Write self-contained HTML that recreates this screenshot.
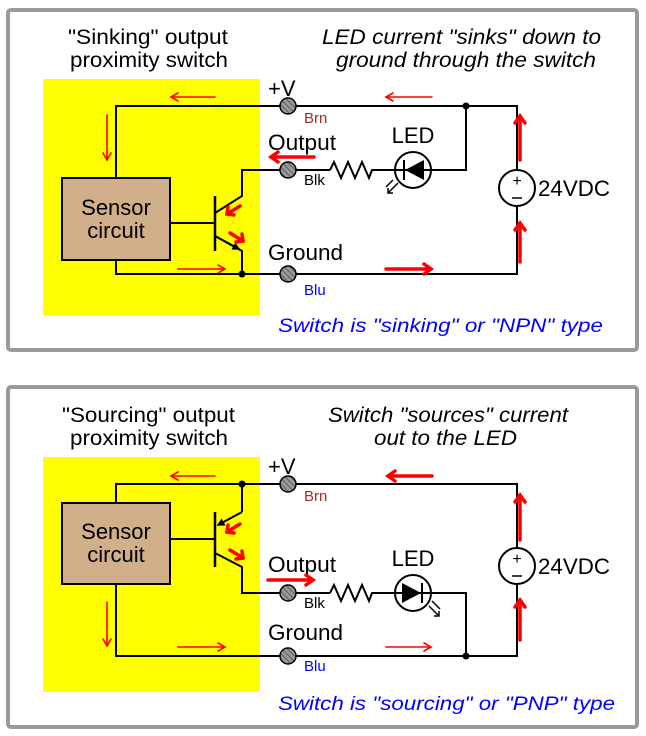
<!DOCTYPE html>
<html><head><meta charset="utf-8"><style>
html,body{margin:0;padding:0;background:#fff;}
svg{display:block;font-family:"Liberation Sans",sans-serif;}
</style></head><body>
<svg width="646" height="736" viewBox="0 0 646 736" xmlns="http://www.w3.org/2000/svg">
<defs>
<marker id="ah" viewBox="0 0 10 10" refX="8" refY="5" markerWidth="4" markerHeight="4" orient="auto"><path d="M0,0 L10,5 L0,10 z" fill="#000"/></marker>
<pattern id="hatch" width="4" height="4" patternUnits="userSpaceOnUse" patternTransform="rotate(-45)"><rect width="4" height="4" fill="#999"/><line x1="0" y1="0" x2="0" y2="4" stroke="#444" stroke-width="1.4"/></pattern>
</defs>
<rect x="8" y="10" width="629" height="340" rx="3" fill="none" stroke="#9a9a9a" stroke-width="4"/>
<rect x="8" y="387" width="629" height="340" rx="3" fill="none" stroke="#9a9a9a" stroke-width="4"/>

<g>
<rect x="43" y="79" width="217" height="236" fill="#ffff00"/>
<text x="68" y="44" font-size="21" textLength="160" lengthAdjust="spacingAndGlyphs">"Sinking" output</text>
<text x="70" y="67" font-size="21" textLength="158" lengthAdjust="spacingAndGlyphs">proximity switch</text>
<text x="322" y="44" font-size="21" font-style="italic" textLength="279" lengthAdjust="spacingAndGlyphs">LED current "sinks" down to</text>
<text x="336" y="67" font-size="21" font-style="italic" textLength="260" lengthAdjust="spacingAndGlyphs">ground through the switch</text>
<g fill="none" stroke="#000" stroke-width="2">
<polyline points="116,178 116,106 517,106 517,170"/>
<polyline points="517,206 517,274 116,274 116,260"/>
<line x1="170" y1="223" x2="215" y2="223"/>
<line x1="215" y1="196" x2="215" y2="251" stroke-width="2.5"/>
<polyline points="215,213 242,196 242,170 330,170"/>
<polyline points="330,170 334,162 341,178 348,162 355,178 362,162 369,178 372,170 395,170"/>
<polyline points="431,170 466,170 466,106"/>
<polyline points="215,236 242,251 242,274" />
</g>
<line x1="215" y1="236" x2="239" y2="249" stroke="#000" stroke-width="2" marker-end="url(#ah)"/>
<circle cx="242" cy="274" r="3.5"/><circle cx="466" cy="106" r="3.5"/>
<rect x="62" y="178" width="108" height="82" fill="#d2af8b" stroke="#000" stroke-width="2"/>
<text x="116" y="215" font-size="22" text-anchor="middle">Sensor</text>
<text x="116" y="238" font-size="22" text-anchor="middle">circuit</text>
<g stroke="#000" stroke-width="1.5"><circle cx="288" cy="106" r="8" fill="url(#hatch)"/><circle cx="288" cy="170" r="8" fill="url(#hatch)"/><circle cx="288" cy="274" r="8" fill="url(#hatch)"/></g>
<circle cx="413" cy="170" r="18" fill="#fff" stroke="#000" stroke-width="2"/>
<line x1="395" y1="170" x2="431" y2="170" stroke="#000" stroke-width="2"/>
<polygon points="424,160 424,180 405,170" fill="#000"/>
<line x1="404" y1="160" x2="404" y2="180" stroke="#000" stroke-width="2"/>
<g stroke="#000" stroke-width="1.5" fill="none"><line x1="398" y1="183" x2="388" y2="193"/><polyline points="388,188 388,193 393,193"/><line x1="393" y1="180" x2="386" y2="187"/></g>
<circle cx="517" cy="188" r="18" fill="#fff" stroke="#000" stroke-width="2"/>
<text x="517" y="186" font-size="16" text-anchor="middle">+</text>
<line x1="512" y1="198" x2="522" y2="198" stroke="#000" stroke-width="1.5"/>
<text x="538" y="196" font-size="22" textLength="72" lengthAdjust="spacingAndGlyphs">24VDC</text>
<text x="268" y="96" font-size="22">+V</text>
<text x="304" y="123" font-size="15" fill="#a52a2a">Brn</text>
<text x="268" y="150" font-size="22" textLength="68" lengthAdjust="spacingAndGlyphs">Output</text>
<text x="304" y="185" font-size="15">Blk</text>
<text x="268" y="260" font-size="22" textLength="75" lengthAdjust="spacingAndGlyphs">Ground</text>
<text x="304" y="295" font-size="15" fill="#0000ff">Blu</text>
<text x="413" y="143" font-size="22" text-anchor="middle">LED</text>
<text x="278" y="332" font-size="19" font-style="italic" fill="#0000ff" textLength="325" lengthAdjust="spacingAndGlyphs">Switch is "sinking" or "NPN" type</text>
<g stroke="#f00" fill="none" stroke-linecap="round">
<g stroke-width="1.6"><line x1="215" y1="97" x2="171" y2="97"/><polyline points="178,93 171,97 178,101"/>
<line x1="107" y1="115" x2="107" y2="160"/><polyline points="103,153 107,160 111,153"/>
<line x1="178" y1="269" x2="225" y2="269"/><polyline points="218,265 225,269 218,273"/>
<line x1="432" y1="97" x2="386" y2="97"/><polyline points="393,93 386,97 393,101"/></g>
<g stroke-width="3.5"><line x1="314" y1="157" x2="271" y2="157"/><polyline points="278,152 271,157 278,162"/>
<line x1="386" y1="269" x2="431" y2="269"/><polyline points="424,264 431,269 424,274"/>
<line x1="520" y1="160" x2="520" y2="116"/><polyline points="515,123 520,116 525,123"/>
<line x1="520" y1="262" x2="520" y2="223"/><polyline points="515,230 520,223 525,230"/>
<line x1="240" y1="206" x2="227" y2="214"/><polyline points="228,207 227,214 234,215"/>
<line x1="230" y1="233" x2="243" y2="241"/><polyline points="236,242 243,241 242,234"/></g>
</g>
</g>

<g>
<rect x="43" y="457" width="217" height="235" fill="#ffff00"/>
<text x="62" y="422" font-size="21" textLength="173" lengthAdjust="spacingAndGlyphs">"Sourcing" output</text>
<text x="70" y="445" font-size="21" textLength="158" lengthAdjust="spacingAndGlyphs">proximity switch</text>
<text x="328" y="422" font-size="21" font-style="italic" textLength="240" lengthAdjust="spacingAndGlyphs">Switch "sources" current</text>
<text x="374" y="445" font-size="21" font-style="italic" textLength="143" lengthAdjust="spacingAndGlyphs">out to the LED</text>
<g fill="none" stroke="#000" stroke-width="2">
<polyline points="116,503 116,484 517,484 517,548"/>
<polyline points="517,584 517,656 116,656 116,584"/>
<line x1="170" y1="539" x2="215" y2="539"/>
<line x1="215" y1="512" x2="215" y2="567" stroke-width="2.5"/>
<polyline points="242,484 242,512"/>
<polyline points="215,553 242,567 242,593 330,593"/>
<polyline points="330,593 334,585 341,601 348,585 355,601 362,585 369,601 372,593 395,593"/>
<polyline points="431,593 466,593 466,656"/>
</g>
<line x1="242" y1="512" x2="218" y2="525" stroke="#000" stroke-width="2" marker-end="url(#ah)"/>
<circle cx="242" cy="484" r="3.5"/><circle cx="466" cy="656" r="3.5"/>
<rect x="62" y="503" width="108" height="81" fill="#d2af8b" stroke="#000" stroke-width="2"/>
<text x="116" y="539" font-size="22" text-anchor="middle">Sensor</text>
<text x="116" y="562" font-size="22" text-anchor="middle">circuit</text>
<g stroke="#000" stroke-width="1.5"><circle cx="288" cy="484" r="8" fill="url(#hatch)"/><circle cx="288" cy="593" r="8" fill="url(#hatch)"/><circle cx="288" cy="656" r="8" fill="url(#hatch)"/></g>
<circle cx="413" cy="593" r="18" fill="#fff" stroke="#000" stroke-width="2"/>
<line x1="395" y1="593" x2="431" y2="593" stroke="#000" stroke-width="2"/>
<polygon points="402,583 402,603 421,593" fill="#000"/>
<line x1="422" y1="583" x2="422" y2="603" stroke="#000" stroke-width="2"/>
<g stroke="#000" stroke-width="1.5" fill="none"><line x1="429" y1="606" x2="439" y2="616"/><polyline points="434,616 439,616 439,611"/><line x1="432" y1="601" x2="440" y2="609"/></g>
<circle cx="517" cy="566" r="18" fill="#fff" stroke="#000" stroke-width="2"/>
<text x="517" y="564" font-size="16" text-anchor="middle">+</text>
<line x1="512" y1="576" x2="522" y2="576" stroke="#000" stroke-width="1.5"/>
<text x="538" y="574" font-size="22" textLength="72" lengthAdjust="spacingAndGlyphs">24VDC</text>
<text x="268" y="474" font-size="22">+V</text>
<text x="304" y="501" font-size="15" fill="#a52a2a">Brn</text>
<text x="268" y="572" font-size="22" textLength="68" lengthAdjust="spacingAndGlyphs">Output</text>
<text x="304" y="608" font-size="15">Blk</text>
<text x="268" y="640" font-size="22" textLength="75" lengthAdjust="spacingAndGlyphs">Ground</text>
<text x="304" y="671" font-size="15" fill="#0000ff">Blu</text>
<text x="413" y="566" font-size="22" text-anchor="middle">LED</text>
<text x="278" y="710" font-size="19" font-style="italic" fill="#0000ff" textLength="337" lengthAdjust="spacingAndGlyphs">Switch is "sourcing" or "PNP" type</text>
<g stroke="#f00" fill="none" stroke-linecap="round">
<g stroke-width="1.6"><line x1="215" y1="476" x2="171" y2="476"/><polyline points="178,472 171,476 178,480"/>
<line x1="107" y1="602" x2="107" y2="646"/><polyline points="103,639 107,646 111,639"/>
<line x1="178" y1="647" x2="225" y2="647"/><polyline points="218,643 225,647 218,651"/>
<line x1="386" y1="647" x2="431" y2="647"/><polyline points="424,643 431,647 424,651"/></g>
<g stroke-width="3.5"><line x1="268" y1="580" x2="313" y2="580"/><polyline points="306,575 313,580 306,585"/>
<line x1="432" y1="476" x2="388" y2="476"/><polyline points="395,471 388,476 395,481"/>
<line x1="520" y1="540" x2="520" y2="495"/><polyline points="515,502 520,495 525,502"/>
<line x1="520" y1="640" x2="520" y2="600"/><polyline points="515,607 520,600 525,607"/>
<line x1="240" y1="524" x2="227" y2="532"/><polyline points="228,525 227,532 234,533"/>
<line x1="230" y1="550" x2="243" y2="558"/><polyline points="236,559 243,558 242,551"/></g>
</g>
</g>
</svg>
</body></html>
